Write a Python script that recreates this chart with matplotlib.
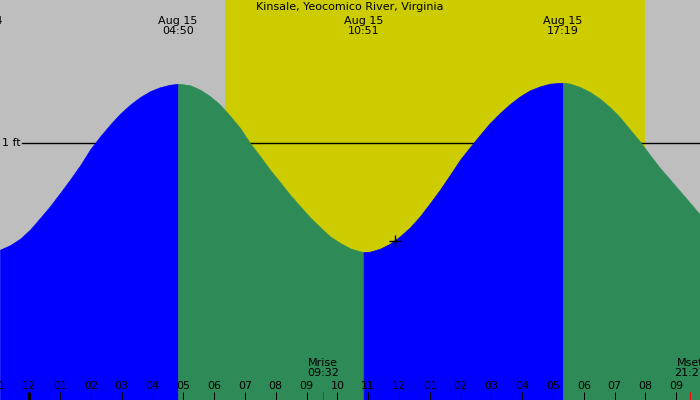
import matplotlib
matplotlib.use("Agg")
import numpy as np
import matplotlib.pyplot as plt

# tide curve: hours from midnight Aug 15, height in ft
czas_h = [-0.95, -0.63, -0.30, 0.02, 0.35, 0.67, 1.00, 1.32, 1.65, 1.97,
          2.30, 2.62, 2.94, 3.27, 3.59, 3.92, 4.24, 4.57, 4.83, 4.89,
          5.22, 5.54, 5.87, 6.19, 6.51, 6.84, 7.16, 7.49, 7.81, 8.14,
          8.46, 8.79, 9.11, 9.44, 9.76, 10.09, 10.41, 10.73, 10.85, 11.06,
          11.38, 11.71, 12.03, 12.36, 12.68, 13.01, 13.33, 13.66, 13.98, 14.30,
          14.63, 14.95, 15.28, 15.60, 15.93, 16.25, 16.58, 16.90, 17.23, 17.32,
          17.55, 17.87, 18.20, 18.52, 18.85, 19.17, 19.50, 19.82, 20.15, 20.47,
          20.80, 21.12, 21.45, 21.77]
wysokosc_ft = [0.198, 0.231, 0.280, 0.348, 0.436, 0.524, 0.624, 0.724, 0.832, 0.950,
               1.050, 1.138, 1.218, 1.288, 1.344, 1.389, 1.419, 1.438, 1.445, 1.444,
               1.434, 1.401, 1.351, 1.288, 1.205, 1.113, 1.000, 0.900, 0.799, 0.705,
               0.611, 0.524, 0.441, 0.366, 0.298, 0.248, 0.208, 0.186, 0.180, 0.183,
               0.205, 0.243, 0.298, 0.366, 0.449, 0.549, 0.649, 0.762, 0.874, 0.968,
               1.062, 1.150, 1.226, 1.293, 1.351, 1.396, 1.426, 1.446, 1.452, 1.453,
               1.446, 1.421, 1.383, 1.333, 1.268, 1.193, 1.100, 1.011, 0.908, 0.812,
               0.724, 0.637, 0.549, 0.461]

# extremes (low / high) with their labels
ekstrema_h = [-1.50, 4.83, 10.85, 17.32]
ekstrema_typ = ["low", "high", "low", "high"]
ekstrema_opis = ["Aug 14\n22:30", "Aug 15\n04:50", "Aug 15\n10:51", "Aug 15\n17:19"]

wschod_h = 6.35     # sunrise 06:21
zachod_h = 19.98    # sunset 19:59
ksiezyc_h = [9.53, 21.45]
ksiezyc_opis = ["Mrise\n09:32", "Mset\n21:27"]
kursor = (11.87, 0.26)

godziny = list(range(-1, 22))
poziomy_ft = [0, 1]
tytul = "Kinsale, Yeocomico River, Virginia"

SZARY = "#bebebe"
ZOLTY = "#cccc00"
NIEBIESKI = "#0000ff"
ZIELONY = "#2e8b57"
FS = 8

fig = plt.figure(figsize=(7, 4), dpi=100)
ax = fig.add_axes([0, 0, 1, 1])
ax.set_facecolor(SZARY)
ax.set_xlim(-0.951, 21.77)
ax.set_ylim(-0.932, 2.075)
for s in ax.spines.values():
    s.set_visible(False)
ax.set_xticks([])
ax.set_yticks([])

# daylight
ax.axvspan(wschod_h, zachod_h, color=ZOLTY, lw=0, zorder=0)

# level lines (under the water)
for p in poziomy_ft:
    ax.axhline(p, xmin=22 / 700, color="black", lw=1, zorder=1)
    ax.text(2 / 700, p, f"{p} ft", transform=ax.get_yaxis_transform(),
            ha="left", va="center", fontsize=FS, zorder=1)

# water: blue when rising, green when falling
t = np.array(czas_h)
w = np.array(wysokosc_ft)
granice = ekstrema_h + [t[-1] + 1]
for i in range(len(ekstrema_h)):
    t0, t1 = granice[i], granice[i + 1]
    m = (t >= t0) & (t <= t1)
    if m.sum() < 2:
        continue
    kolor = NIEBIESKI if ekstrema_typ[i] == "low" else ZIELONY
    ax.fill_between(t[m], w[m], -0.932, facecolor=kolor, edgecolor=kolor,
                    lw=0.5, zorder=2)

ax.plot(*kursor, marker="+", color="black", ms=8, mew=1, zorder=3)

# labels
ax.text(0.5, 0.982, tytul, transform=ax.transAxes, ha="center", va="center", fontsize=FS)
for h, opis in zip(ekstrema_h, ekstrema_opis):
    ax.text(h, 0.935, opis, transform=ax.get_xaxis_transform(), ha="center",
            va="center", fontsize=FS, linespacing=1.0, multialignment="center")

trx = ax.get_xaxis_transform()
for h in godziny:
    szer = 3 if h % 24 == 0 else 1
    ax.vlines(h, 0, 0.021, transform=trx, color="black", lw=szer * 0.72, zorder=4)
    ax.text(h, 0.036, f"{(h % 12) or 12:02d}", transform=trx, ha="center",
            va="center", fontsize=FS, zorder=4)
for h, opis in zip(ksiezyc_h, ksiezyc_opis):
    ax.vlines(h, 0, 0.021, transform=trx, color="red", lw=0.72, zorder=4)
    ax.text(h, 0.081, opis, transform=trx, ha="center", va="center", fontsize=FS,
            linespacing=1.0, multialignment="center", zorder=4)

fig.savefig("out.png", dpi=100, facecolor=SZARY)
